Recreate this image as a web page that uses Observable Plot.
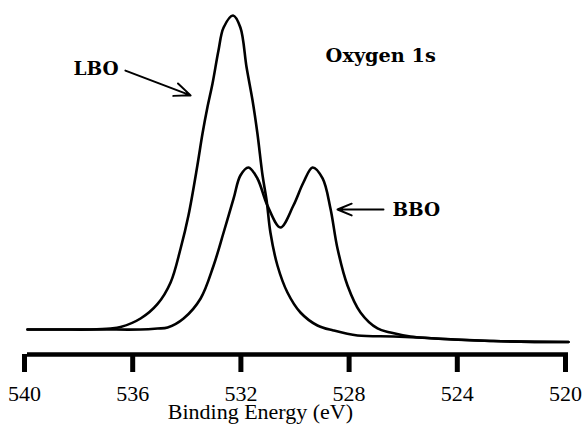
<!DOCTYPE html>
<html><head><meta charset="utf-8">
<script src="https://cdn.jsdelivr.net/npm/d3@7"></script>
<script src="https://cdn.jsdelivr.net/npm/@observablehq/plot@0.6"></script>
<style>body{margin:0;background:#fff}</style>
</head><body><div id="chart"></div>
<script>
// Oxygen 1s XPS spectra (binding energy in eV, intensity in arbitrary units)
const lboEnergy = [540, 538.78, 537.67, 536.93, 536.56, 535.82, 535.19, 534.71, 534.34, 534.05, 533.72, 533.53, 533.35, 533.16, 532.94, 532.75, 532.40, 532.13, 531.90, 531.68, 531.50, 531.31, 531.16, 531.02, 530.76, 530.39, 529.91, 529.28, 528.69, 527.80, 526.47, 525.21, 522.77, 520];
const lboIntensity = [4.85, 4.85, 4.85, 5.15, 5.6, 8.18, 12.6, 19.09, 29.39, 39.39, 54.55, 64.24, 72.12, 79.39, 89.39, 96.36, 100, 96.36, 84.24, 74.24, 64.24, 51.52, 43.94, 34.24, 24.24, 16.06, 10.0, 6.06, 4.55, 3.03, 2.73, 2.27, 1.36, 1.06];
const bboEnergy = [540, 537.30, 535.82, 535.19, 534.82, 534.23, 533.60, 533.12, 532.75, 532.38, 532.13, 531.83, 531.50, 531.13, 530.65, 530.17, 529.80, 529.46, 529.09, 528.80, 528.54, 528.17, 527.69, 527.06, 526.58, 525.84, 525.21, 522.77, 520];
const bboIntensity = [4.85, 4.85, 4.85, 5.15, 5.45, 8.18, 14.24, 24.24, 34.24, 44.55, 51.52, 53.94, 50.61, 42.42, 35.76, 42.42, 49.39, 53.94, 50.61, 41.52, 29.39, 18.18, 10.0, 5.15, 3.94, 2.73, 2.27, 1.36, 1.06];
const xTicks = [540, 536, 532, 528, 524, 520];
const axisLabel = "Binding Energy (eV)";
const titleText = "Oxygen 1s";
const labelNames = ["LBO", "BBO"];
const labelEnergy = [538.30, 526.51];
const labelIntensity = [82.1, 39.1];
const arrowFromEnergy = [536.38, 526.84];
const arrowFromIntensity = [83.3, 41.2];
const arrowToEnergy = [533.97, 528.54];
const arrowToIntensity = [75.8, 41.2];
const axisFloor = -2.73;

const lbo = lboEnergy.map((e, i) => ({energy: e, intensity: lboIntensity[i]}));
const bbo = bboEnergy.map((e, i) => ({energy: e, intensity: bboIntensity[i]}));
const labels = labelNames.map((t, i) => ({text: t, energy: labelEnergy[i], intensity: labelIntensity[i]}));
const arrows = arrowFromEnergy.map((e, i) => ({x1: e, y1: arrowFromIntensity[i], x2: arrowToEnergy[i], y2: arrowToIntensity[i]}));

const serif = "'Liberation Serif', 'Times New Roman', serif";
const boldFont = {fontFamily: "'DejaVu Serif', serif", fontWeight: "bold", fontSize: 18.5, fill: "black"};

const chart = Plot.plot({
  width: 583, height: 426,
  marginLeft: 27, marginRight: 15, marginTop: 15, marginBottom: 72,
  x: {domain: [540, 520]},
  y: {domain: [axisFloor, 100], axis: null},
  style: {fontFamily: serif, fontSize: "22px", background: "white", color: "black"},
  marks: [
    Plot.ruleY([axisFloor], {stroke: "black", strokeWidth: 4.5}),
    Plot.axisX({ticks: xTicks, tickSize: 18, tickPadding: 13, strokeWidth: 5, label: null, fontSize: 22, fontFamily: serif, dx: -3, tickFormat: d => String(d)}),
    Plot.text([axisLabel], {text: d => d, x: 531.39, frameAnchor: "bottom", dy: 64, lineAnchor: "bottom", fontSize: 22, fontFamily: serif, fill: "black"}),
    Plot.line(lbo, {x: "energy", y: "intensity", curve: "catmull-rom", stroke: "black", strokeWidth: 2.6}),
    Plot.line(bbo, {x: "energy", y: "intensity", curve: "catmull-rom", stroke: "black", strokeWidth: 2.6}),
    Plot.arrow(arrows, {x1: "x1", y1: "y1", x2: "x2", y2: "y2", stroke: "black", strokeWidth: 2, headLength: 13, headAngle: 45}),
    Plot.text(labels, {x: "energy", y: "intensity", text: "text", textAnchor: "start", lineAnchor: "bottom", ...boldFont}),
    Plot.text([titleText], {text: d => d, x: 528.98, y: 85.76, textAnchor: "start", lineAnchor: "bottom", ...boldFont, fontSize: 19.3})
  ]
});
d3.select(chart).selectAll("g[aria-label='x-axis tick label'] text, g[aria-label='x-axis tick label']").style("font-family", serif).style("font-size", "22px");
document.getElementById("chart").appendChild(chart);
</script>
</body></html>
